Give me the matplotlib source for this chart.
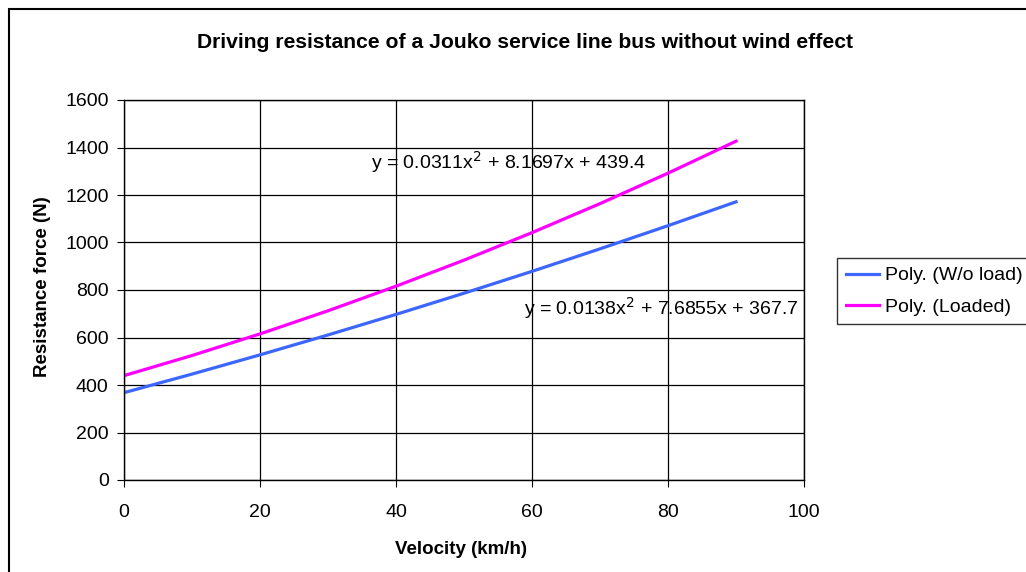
import matplotlib
matplotlib.use("Agg")
import matplotlib.pyplot as plt
from matplotlib.patches import Rectangle

plt.rcParams['font.family'] = ['Liberation Sans', 'DejaVu Sans']

velocity = [0, 10, 20, 30, 40, 50, 60, 70, 80, 90]
force_empty = [367.7, 445.9, 526.9, 610.7, 697.2, 786.5, 878.5, 973.3, 1070.8, 1171.2]
force_loaded = [439.4, 524.2, 615.2, 712.5, 816.0, 925.7, 1041.6, 1163.7, 1292.0, 1426.6]
labels = ['Poly. (W/o load)', 'Poly. (Loaded)']
eq_empty = 'y = 0.0138x$^2$ + 7.6855x + 367.7'
eq_loaded = 'y = 0.0311x$^2$ + 8.1697x + 439.4'

W, H = 1026, 572
fig = plt.figure(figsize=(W / 100, H / 100), dpi=100)

# outer chart border (runs off the right and bottom edges)
fig.patches.append(Rectangle((9 / W, -0.1), 1.2, 1 - 9 / H + 0.1, transform=fig.transFigure,
                             fill=False, edgecolor='black', linewidth=1.5))

ax = fig.add_axes([124 / W, 1 - 480 / H, 680 / W, 380 / H])
ax.plot(velocity, force_empty, color='#3D66FF', linewidth=2.3, label=labels[0])
ax.plot(velocity, force_loaded, color='#FF00FF', linewidth=2.3, label=labels[1])

ax.set_xlim(0, 100)
ax.set_ylim(0, 1600)
ax.set_xticks(range(0, 101, 20))
ax.set_yticks(range(0, 1601, 200))
ax.grid(True, color='black', linewidth=0.9)
ax.set_axisbelow(True)
for s in ax.spines.values():
    s.set_linewidth(1.0)
ax.tick_params(labelsize=14, length=5, width=0.8, direction='out')
ax.tick_params(axis='y', pad=6)
ax.tick_params(axis='x', pad=12)

fig.text(461 / W, 1 - 549 / H, 'Velocity (km/h)', fontsize=13.5, fontweight='bold',
         ha='center', va='center')
fig.text(43 / W, 1 - 287 / H, 'Resistance force (N)', fontsize=13.5, fontweight='bold',
         ha='center', va='center', rotation=90)
fig.text(525 / W, 1 - 42 / H, 'Driving resistance of a Jouko service line bus without wind effect',
         ha='center', va='center', fontsize=15.2, fontweight='bold')

ax.text(56.5, 1339, eq_loaded, fontsize=14, ha='center', va='center')
ax.text(79.0, 724, eq_empty, fontsize=14, ha='center', va='center')

leg = ax.legend(loc='upper left', bbox_to_anchor=(837 / W, 1 - 258 / H), bbox_transform=fig.transFigure,
                fontsize=14, frameon=True, fancybox=False, edgecolor='black', handlelength=1.7,
                handletextpad=0.3, borderpad=0.45, labelspacing=0.7, borderaxespad=0)
leg.get_frame().set_linewidth(1.0)

fig.savefig('out.png', dpi=100)
